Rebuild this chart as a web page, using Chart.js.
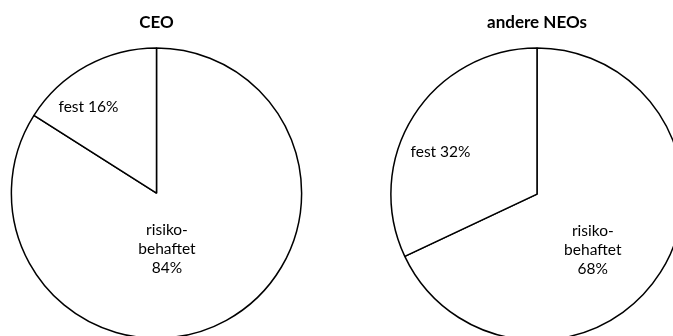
<!DOCTYPE html>
<html>
<head>
<meta charset="utf-8">
<script src="https://cdn.jsdelivr.net/npm/chart.js@4/dist/chart.umd.min.js"></script>
<style>
  html, body { margin: 0; padding: 0; background: #fff; overflow: hidden; width: 673px; height: 336px; }
  .box { position: absolute; top: 0; }
  canvas { display: block; }
</style>
</head>
<body>
<div class="box" id="b1" style="left:0px;"><canvas id="c1" width="311" height="339"></canvas></div>
<div class="box" id="b2" style="left:367px;"><canvas id="c2" width="330" height="341"></canvas></div>
<script>
// ---- data ----
const chartTitles = ["CEO", "andere NEOs"];
const categories = ["risikobehaftet", "fest"];
const ceoValues = [84, 16];
const neoValues = [68, 32];
// label text templates per category ({v} = value)
const labelTemplates = [["risiko-", "behaftet", "{v}%"], ["fest {v}%"]];

// ---- label placement (angle clockwise from top in degrees, radius fraction) ----
const ceoLabelPlace = [[169.4, 0.393], [321.7, 0.756]];
const neoLabelPlace = [[135, 0.54], [293.5, 0.72]];

const FONT = "Lato, 'Open Sans', sans-serif";

const labelPlugin = {
  id: 'sliceLabels',
  afterDatasetsDraw(chart, args, opts) {
    const ctx = chart.ctx;
    const meta = chart.getDatasetMeta(0);
    const values = chart.data.datasets[0].data;
    ctx.save();
    ctx.font = "15.5px " + FONT;
    ctx.fillStyle = "#000";
    ctx.textAlign = "center";
    ctx.textBaseline = "middle";
    const lh = 19;
    meta.data.forEach((arc, i) => {
      const p = arc.getProps(['x', 'y', 'outerRadius'], true);
      const [deg, rf] = opts.place[i];
      const a = deg * Math.PI / 180;
      const cx = p.x + rf * p.outerRadius * Math.sin(a);
      const cy = p.y - rf * p.outerRadius * Math.cos(a);
      const lines = labelTemplates[i].map(s => s.replace("{v}", values[i]));
      const y0 = cy - (lines.length - 1) * lh / 2;
      lines.forEach((ln, k) => ctx.fillText(ln, cx, y0 + k * lh));
    });
    ctx.restore();
  }
};

function makePie(id, title, values, place, padLeft, topPad, bottomPad) {
  return new Chart(document.getElementById(id), {
    type: 'pie',
    data: {
      labels: categories,
      datasets: [{
        data: values,
        backgroundColor: '#ffffff',
        borderColor: '#000000',
        borderWidth: 1.5,
        hoverOffset: 0
      }]
    },
    options: {
      responsive: false,
      animation: false,
      events: [],
      layout: { padding: { left: padLeft, right: 0, top: 0, bottom: 0 } },
      plugins: {
        legend: { display: false },
        tooltip: { enabled: false },
        title: {
          display: true,
          text: title,
          color: '#000',
          font: { family: FONT, size: 17, weight: 'bold', lineHeight: 1.2 },
          padding: { top: topPad, bottom: bottomPad }
        },
        sliceLabels: { place: place }
      }
    },
    plugins: [labelPlugin]
  });
}

makePie('c1', chartTitles[0], ceoValues, ceoLabelPlace, 2, 12.8, 14.05);
makePie('c2', chartTitles[1], neoValues, neoLabelPlace, 10, 12.8, 14.05);
</script>
</body>
</html>
